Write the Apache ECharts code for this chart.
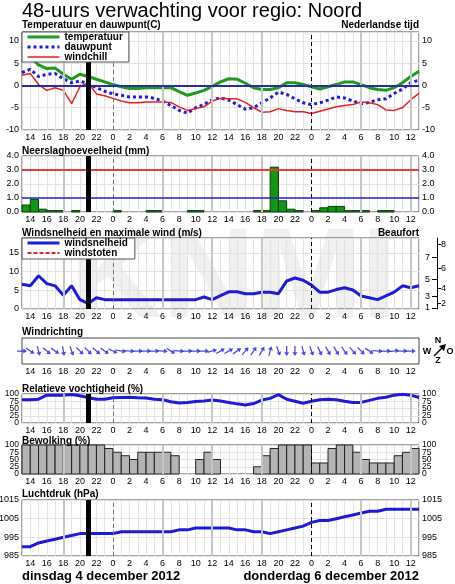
<!DOCTYPE html>
<html>
<head>
<meta charset="utf-8">
<script src="https://cdn.jsdelivr.net/npm/echarts@6/dist/echarts.min.js"></script>
<style>
  html, body { margin: 0; padding: 0; background: #fff; }
  #chart { width: 455px; height: 584px; }
</style>
</head>
<body>
<div id="chart"></div>
<script>
// hours counted from 00:00 on dinsdag; forecast runs 13:00 -> 13:00 two days later
var hours = [13, 14, 15, 16, 17, 18, 19, 20, 21, 22, 23, 24, 25, 26, 27, 28, 29, 30, 31, 32, 33, 34, 35, 36,
             37, 38, 39, 40, 41, 42, 43, 44, 45, 46, 47, 48, 49, 50, 51, 52, 53, 54, 55, 56, 57, 58, 59, 60, 61];

var temperatuur = [7.5, 6.4, 4.6, 3.8, 3.9, 2.5, 1.4, 2.5, 2.0, 1.4, 0.8, 0.2, -0.3, -0.7, -0.7, -0.5, -0.5, -0.5,
                   -0.5, -1.4, -2.2, -1.7, -1.1, -0.2, 0.8, 1.5, 1.4, 0.5, -0.5, -0.9, -0.9, -0.5, 0.6, 0.6, 0.2,
                   -0.3, -0.8, -0.3, 0.2, 0.8, 0.8, 0.2, -0.5, -0.9, -1.1, -0.5, 0.6, 2.0, 3.2];
var dauwpunt = [2.9, 3.6, 2.0, 2.5, 2.7, 1.5, 0.6, 1.0, 0.4, -0.5, -1.3, -1.9, -2.2, -2.6, -2.6, -2.6, -2.9, -3.5,
                -4.5, -5.6, -6.2, -5.0, -4.3, -3.2, -2.8, -3.3, -4.3, -5.3, -5.0, -3.9, -2.8, -1.5, -2.0, -3.0, -3.9,
                -4.3, -3.9, -3.3, -2.6, -2.8, -3.5, -4.1, -3.8, -3.2, -3.0, -1.8, -0.8, 0.6, 1.2];
var windchill = [2.3, 2.7, 0.2, -1.1, -0.5, -1.1, -4.1, -0.3, 0.6, -1.9, -2.3, -2.9, -3.5, -3.9, -3.9, -3.7, -3.7, -3.7,
                 -3.8, -4.8, -5.6, -5.2, -4.8, -3.5, -2.9, -3.0, -3.0, -3.8, -5.0, -6.0, -5.9, -5.2, -5.6, -5.9, -5.9,
                 -6.3, -5.8, -5.3, -4.8, -4.5, -4.3, -3.7, -3.9, -4.3, -5.5, -5.6, -5.0, -3.2, -1.8];

// hourly amounts, one bar per hour starting at the hour
var neerslag = [0.5, 0.9, 0.2, 0.1, 0.1, 0, 0.1, 0, 0, 0, 0, 0.1, 0, 0, 0, 0.1, 0.1, 0, 0, 0, 0.1, 0.1, 0, 0,
                0, 0, 0, 0, 0.1, 0.1, 3.2, 0.8, 0.2, 0.1, 0, 0.1, 0.3, 0.4, 0.4, 0.1, 0.1, 0.1, 0, 0.1, 0.1, 0, 0, 0];

var windsnelheid = [6.6, 6.2, 8.9, 6.8, 6.2, 3.7, 6.2, 2.5, 1.5, 3.0, 2.5, 2.5, 2.5, 2.5, 2.5, 2.5, 2.5, 2.5, 2.5,
                    2.5, 2.5, 2.5, 3.2, 2.5, 3.6, 4.6, 4.6, 4.1, 4.1, 4.5, 4.5, 4.1, 7.5, 8.3, 7.7, 6.4, 4.5, 4.5,
                    5.2, 5.7, 5.1, 3.5, 3.0, 2.5, 3.5, 4.5, 6.2, 5.7, 6.2];
var windstoten = [];
// lower bounds of the Beaufort classes in m/s
var beaufortEven = [1.6, 5.5, 10.8, 17.2];
var beaufortEvenLabels = ['2', '4', '6', '8'];
var beaufortOdd = [0.3, 3.4, 8.0, 13.9];
var beaufortOddLabels = ['1', '3', '5', '7'];

// direction the wind comes from, degrees, one arrow per hour
var windrichting = [270, 305, 345, 310, 305, 350, 340, 315, 315, 310, 305, 295, 280, 275, 270, 270, 270, 275,
                    300, 275, 270, 270, 270, 255, 240, 240, 235, 220, 215, 210, 195, 340, 0, 0, 345, 340,
                    335, 330, 330, 325, 320, 315, 305, 275, 270, 262, 270, 270];

var vochtigheid = [80, 80, 82, 96, 96, 96, 98, 94, 88, 82, 82, 87, 88, 89, 87, 86, 82, 80, 73, 69, 71, 74, 76, 79,
                   76, 71, 66, 62, 67, 79, 85, 98, 82, 75, 68, 75, 80, 82, 80, 75, 71, 71, 78, 85, 89, 96, 99, 96, 88];

var bewolking = [100, 100, 100, 100, 100, 100, 100, 100, 100, 100, 88, 75, 63, 50, 75, 75, 75, 75, 63, 0, 0, 50, 75, 50,
                 0, 0, 0, 0, 25, 63, 88, 100, 100, 100, 100, 38, 38, 88, 100, 100, 75, 50, 38, 38, 38, 63, 75, 88];
var procentTicksA = [0, 50, 100];
var procentTicksB = [25, 75];

var luchtdruk = [990, 990, 992, 993, 994, 995, 996, 997, 997, 997, 997, 997, 998, 998, 998, 998, 998, 998, 998, 999,
                 999, 1000, 1000, 1000, 1000, 1000, 999, 999, 998, 998, 997, 998, 999, 1000, 1001, 1003, 1004, 1004,
                 1005, 1006, 1007, 1008, 1009, 1009, 1010, 1010, 1010, 1010, 1010];
var drukTicks = [985, 995, 1005, 1015];

var nowHour = 21;
var midnights = [24, 48];
var quarterHours = [18, 30, 36, 42, 54, 60];

var FONT = '"Liberation Sans", Arial, Helvetica, sans-serif';
var BLUE = '#1c1cd8';

var chart = echarts.init(document.getElementById('chart'));

function pairs(vals) {
    return vals.map(function (v, i) { return [hours[i], v]; });
}

// panel rectangles
var panels = [
    { top: 32, height: 98 },   // temperatuur
    { top: 156, height: 56 },  // neerslag
    { top: 238, height: 71 },  // wind
    { top: 338, height: 26 },  // windrichting
    { top: 394, height: 29 },  // vochtigheid
    { top: 445, height: 29 },  // bewolking
    { top: 500, height: 56 }   // luchtdruk
];

var grids = panels.map(function (p, i) {
    return {
        left: 22, width: 397, top: p.top, height: p.height,
        show: true, borderColor: '#444', borderWidth: 1,
        backgroundColor: i === 3 ? '#fff' : 'transparent',
        containLabel: false, outerBoundsMode: 'none'
    };
});

function tickLabel(extra) {
    var l = { margin: 3, fontSize: 9, color: '#000', fontFamily: FONT,
              showMinLabel: true, showMaxLabel: true, hideOverlap: false };
    for (var k in extra) l[k] = extra[k];
    return l;
}

var xAxes = panels.map(function (p, i) {
    return {
        type: 'value', gridIndex: i, min: 13, max: 61, interval: 1,
        axisLine: { show: false }, axisTick: { show: false },
        axisLabel: tickLabel({ formatter: function (v) { return v % 2 === 0 ? String(v % 24) : ''; } }),
        splitLine: { show: i !== 3, lineStyle: { color: '#e2e2e2', width: 1 } }
    };
});

var yAxes = [];
function pairAxes(gi, min, max, interval, fmt) {
    ['left', 'right'].forEach(function (pos) {
        yAxes.push({
            type: 'value', gridIndex: gi, position: pos, min: min, max: max, interval: interval,
            axisLine: { show: false }, axisTick: { show: false },
            axisLabel: tickLabel({ formatter: fmt }),
            splitLine: { show: pos === 'left', lineStyle: { color: '#e2e2e2' } }
        });
    });
    return yAxes.length - 2;
}

// percent panels: labels split over two axes per side so none are dropped as overlapping
function percentAxes(gi) {
    var first = yAxes.length;
    [procentTicksA, procentTicksB].forEach(function (ticks, k) {
        ['left', 'right'].forEach(function (pos) {
            yAxes.push({
                type: 'value', gridIndex: gi, position: pos, min: 0, max: 100, interval: 25,
                axisLine: { show: false }, axisTick: { show: false },
                axisLabel: tickLabel({ fontSize: 8.5, customValues: ticks, interval: 0,
                    formatter: function (v) { return String(v); } }),
                splitLine: { show: k === 0 && pos === 'left', lineStyle: { color: '#e2e2e2' } }
            });
        });
    });
    return first;
}

var yTemp = pairAxes(0, -10, 12, 5, function (v) { return v % 5 === 0 ? String(v) : ''; });
var yRain = pairAxes(1, 0, 4, 1, function (v) { return v.toFixed(1); });

yAxes.push({
    type: 'value', gridIndex: 2, position: 'left', min: 0, max: 19, interval: 5,
    axisLine: { show: false }, axisTick: { show: false },
    axisLabel: tickLabel({ formatter: function (v) { return v % 5 === 0 ? String(v) : ''; } }),
    splitLine: { show: true, lineStyle: { color: '#e2e2e2' } }
});
var yWind = yAxes.length - 1;
yAxes.push({
    type: 'value', gridIndex: 2, position: 'right', offset: 18, min: 0, max: 19,
    axisLine: { show: true, lineStyle: { color: '#000', width: 1 } },
    axisTick: { show: true, length: 4, customValues: beaufortEven, lineStyle: { color: '#000' } },
    axisLabel: tickLabel({ margin: 4, customValues: beaufortEven,
        formatter: function (v) { return beaufortEvenLabels[beaufortEven.indexOf(v)]; } }),
    splitLine: { show: false }
});
yAxes.push({
    type: 'value', gridIndex: 2, position: 'right', offset: 18, min: 0, max: 19,
    axisLine: { show: false },
    axisTick: { show: true, inside: true, length: 5, customValues: beaufortOdd, lineStyle: { color: '#000' } },
    axisLabel: tickLabel({ inside: true, margin: 7, customValues: beaufortOdd,
        formatter: function (v) { return beaufortOddLabels[beaufortOdd.indexOf(v)]; } }),
    splitLine: { show: false }
});

yAxes.push({
    type: 'value', gridIndex: 3, min: -1, max: 1,
    axisLine: { show: false }, axisTick: { show: false }, axisLabel: { show: false }, splitLine: { show: false }
});
var yDir = yAxes.length - 1;

var yHum = percentAxes(4);
var yCloud = percentAxes(5);

['left', 'right'].forEach(function (pos) {
    yAxes.push({
        type: 'value', gridIndex: 6, position: pos, min: 985, max: 1015,
        axisLine: { show: false },
        axisTick: { show: false, customValues: drukTicks },
        axisLabel: tickLabel({ customValues: drukTicks, formatter: function (v) { return String(v); } }),
        splitLine: { show: pos === 'left', lineStyle: { color: '#e2e2e2' } }
    });
});
var yDruk = yAxes.length - 2;

// vertical guide lines behind the data
function guideSeries(gi, yi) {
    var marks = quarterHours.map(function (h) {
        return { xAxis: h, lineStyle: { color: '#c6c6c6', width: 2, type: 'solid' } };
    });
    marks.push({ xAxis: midnights[0], lineStyle: { color: '#707070', width: 1, type: [4, 3] } });
    marks.push({ xAxis: midnights[1], lineStyle: { color: '#000', width: 1, type: [4, 3] } });
    return {
        type: 'line', xAxisIndex: gi, yAxisIndex: yi, data: [], z: 1, silent: true,
        markLine: { symbol: ['none', 'none'], silent: true, animation: false, label: { show: false }, data: marks }
    };
}
// "now" bar and reference levels on top
function topSeries(gi, yi, levels, withNow) {
    var marks = levels.slice();
    if (withNow) marks.push({ xAxis: nowHour, lineStyle: { color: '#000', width: 5, type: 'solid' } });
    return {
        type: 'line', xAxisIndex: gi, yAxisIndex: yi, data: [], z: 6, silent: true,
        markLine: { symbol: ['none', 'none'], silent: true, animation: false, label: { show: false }, data: marks }
    };
}

function lineSeries(name, gi, yi, vals, style) {
    return {
        name: name, type: 'line', xAxisIndex: gi, yAxisIndex: yi, data: pairs(vals),
        symbol: 'none', z: 3, animation: false,
        lineStyle: style, itemStyle: { color: style.color }, color: style.color
    };
}

function hourBars(gi, yi, vals, fill, stroke) {
    return {
        type: 'custom', xAxisIndex: gi, yAxisIndex: yi, z: 2, animation: false,
        data: pairs(vals), encode: { x: 0, y: 1 },
        renderItem: function (params, api) {
            var v = api.value(1);
            if (!v) return null;
            var p0 = api.coord([api.value(0), v]);
            var p1 = api.coord([api.value(0) + 1, 0]);
            return {
                type: 'rect',
                shape: { x: p0[0], y: p0[1], width: p1[0] - p0[0], height: p1[1] - p0[1] },
                style: { fill: fill, stroke: stroke, lineWidth: 1 }
            };
        }
    };
}

var arrowPath = 'path://M4,0 L8,6 L5,6 L5,16 L3,16 L3,6 L0,6 Z';

var series = [
    guideSeries(0, yTemp),
    lineSeries('temperatuur', 0, yTemp, temperatuur, { color: '#1e9a1e', width: 3 }),
    lineSeries('dauwpunt', 0, yTemp, dauwpunt, { color: BLUE, width: 3, type: [3, 3] }),
    lineSeries('windchill', 0, yTemp, windchill, { color: '#e42020', width: 1.5 }),
    topSeries(0, yTemp, [{ yAxis: 0, lineStyle: { color: '#2b2ba8', width: 2, type: 'solid' } }], true),

    guideSeries(1, yRain),
    hourBars(1, yRain, neerslag, '#139613', '#0b3d0b'),
    topSeries(1, yRain, [
        { yAxis: 3, lineStyle: { color: '#e04040', width: 2, type: 'solid' } },
        { yAxis: 1, lineStyle: { color: '#2020d8', width: 1.5, type: 'solid' } }
    ], true),

    guideSeries(2, yWind),
    lineSeries('windsnelheid', 2, yWind, windsnelheid, { color: BLUE, width: 3 }),
    lineSeries('windstoten', 2, yWind, windstoten, { color: '#e02020', width: 2, type: [4, 2] }),
    topSeries(2, yWind, [], true),

    {
        type: 'scatter', xAxisIndex: 3, yAxisIndex: yDir, animation: false, silent: true,
        data: windrichting.map(function (d, i) {
            return { value: [hours[i], 0], symbolRotate: -(d + 180) };
        }),
        symbol: arrowPath, symbolSize: [5, 10], itemStyle: { color: BLUE }
    },

    guideSeries(4, yHum),
    lineSeries('vochtigheid', 4, yHum, vochtigheid, { color: BLUE, width: 3 }),
    topSeries(4, yHum, [], true),

    guideSeries(5, yCloud),
    hourBars(5, yCloud, bewolking, '#b4b4b4', '#222'),

    guideSeries(6, yDruk),
    lineSeries('luchtdruk', 6, yDruk, luchtdruk, { color: BLUE, width: 3 }),
    topSeries(6, yDruk, [], true)
];

function panelTitle(text, top, side) {
    var t = { text: text, top: top, padding: 0,
        textStyle: { fontSize: 10, fontWeight: 'bold', color: '#000', fontFamily: FONT } };
    if (side === 'right') t.right = 36; else t.left = 22;
    return t;
}

function legendBox(items, top, pad) {
    return {
        data: items.map(function (it) { return { name: it[0], lineStyle: { width: it[1] } }; }),
        orient: 'vertical', left: 22, top: top, padding: pad, itemGap: 0,
        itemWidth: 32, itemHeight: 10, selectedMode: false,
        itemStyle: { opacity: 0 },
        backgroundColor: '#fff', borderColor: '#555', borderWidth: 1, z: 8,
        textStyle: { fontSize: 10, fontWeight: 'bold', color: '#000', fontFamily: FONT, lineHeight: 10 }
    };
}

var option = {
    animation: false,
    backgroundColor: '#fff',
    title: [
        { text: '48-uurs verwachting voor regio: Noord', left: 22, top: 1, padding: 0,
          textStyle: { fontSize: 20, fontWeight: 'normal', color: '#000', fontFamily: FONT } },
        panelTitle('Temperatuur en dauwpunt(C)', 20.5),
        panelTitle('Nederlandse tijd', 20.5, 'right'),
        panelTitle('Neerslaghoeveelheid (mm)', 146),
        panelTitle('Windsnelheid en maximale wind (m/s)', 228),
        panelTitle('Beaufort', 228, 'right'),
        panelTitle('Windrichting', 327),
        panelTitle('Relatieve vochtigheid (%)', 384),
        panelTitle('Bewolking (%)', 436),
        panelTitle('Luchtdruk (hPa)', 489),
        { text: 'dinsdag 4 december 2012', left: 22, top: 570, padding: 0,
          textStyle: { fontSize: 13, fontWeight: 'bold', color: '#000', fontFamily: FONT } },
        { text: 'donderdag 6 december 2012', right: 36, top: 570, padding: 0,
          textStyle: { fontSize: 13, fontWeight: 'bold', color: '#000', fontFamily: FONT } }
    ],
    legend: [
        legendBox([['temperatuur', 3], ['dauwpunt', 3], ['windchill', 1.5]], 32, [0, 6, 0, 4]),
        legendBox([['windsnelheid', 3], ['windstoten', 2]], 238, [0, 7, 1, 4])
    ],
    grid: grids,
    xAxis: xAxes,
    yAxis: yAxes,
    series: series,
    graphic: [
        { type: 'text', z: -10, x: 70, y: 282,
          style: { text: 'KNMI', fill: '#f0f0f0', font: 'bold 128px ' + FONT, textVerticalAlign: 'middle' } },
        { type: 'text', x: 438, y: 341, style: { text: 'N', fill: '#000', font: 'bold 9px ' + FONT, textAlign: 'center', textVerticalAlign: 'middle' } },
        { type: 'text', x: 427, y: 352, style: { text: 'W', fill: '#000', font: 'bold 9px ' + FONT, textAlign: 'center', textVerticalAlign: 'middle' } },
        { type: 'text', x: 450, y: 352, style: { text: 'O', fill: '#000', font: 'bold 9px ' + FONT, textAlign: 'center', textVerticalAlign: 'middle' } },
        { type: 'text', x: 438, y: 361, style: { text: 'Z', fill: '#000', font: 'bold 9px ' + FONT, textAlign: 'center', textVerticalAlign: 'middle' } },
        { type: 'line', shape: { x1: 434, y1: 356, x2: 443, y2: 347 }, style: { stroke: '#000', lineWidth: 1.5 } },
        { type: 'polygon', shape: { points: [[446, 344], [439, 346], [444, 351]] }, style: { fill: '#000' } }
    ]
};

chart.setOption(option);
</script>
</body>
</html>
